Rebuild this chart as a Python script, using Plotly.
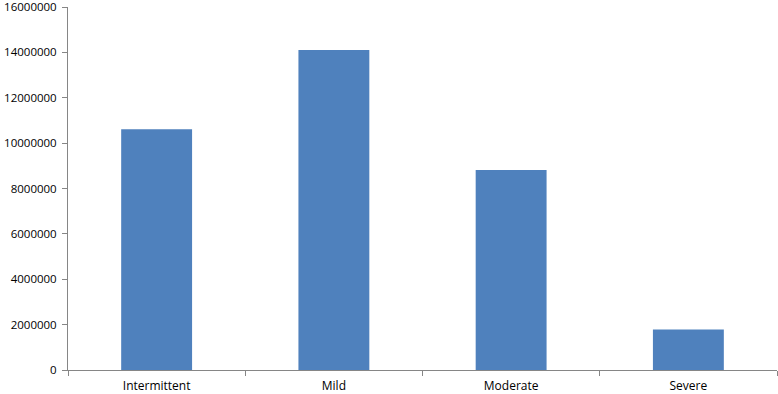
import plotly.graph_objects as go

categories = ["Intermittent", "Mild", "Moderate", "Severe"]
values = [10610000, 14110000, 8810000, 1780000]
y_ticks = [0, 2000000, 4000000, 6000000, 8000000, 10000000, 12000000, 14000000, 16000000]

fig = go.Figure(go.Bar(x=categories, y=values, marker=dict(color="#4F81BD", line=dict(width=0))))

axis_col = "#868686"
font_fam = "Open Sans, Liberation Sans, sans-serif"
fig.update_layout(
    width=778, height=394,
    margin=dict(l=68, r=1, t=7, b=24),
    plot_bgcolor="white", paper_bgcolor="white",
    bargap=0.6,
    showlegend=False,
    font=dict(family=font_fam, size=12, color="#000000"),
)
fig.update_xaxes(
    showline=True, linecolor=axis_col, linewidth=1,
    ticks="outside", tickson="boundaries", ticklen=5, tickcolor=axis_col,
    showgrid=False, tickfont=dict(size=12), automargin=False,
    ticklabeloverflow="allow", ticklabelstandoff=5,
)
fig.update_yaxes(
    range=[0, 16000000], tickvals=y_ticks, ticktext=[str(v) for v in y_ticks],
    showline=True, linecolor=axis_col, linewidth=1,
    ticks="outside", ticklen=5, tickcolor=axis_col,
    showgrid=False, zeroline=False, tickfont=dict(size=11.5),
    ticklabelstandoff=3, automargin=False, ticklabeloverflow="allow",
)
fig.write_html("out.html", config={"displayModeBar": False})

with open("out.html", "r", encoding="utf-8") as f:
    html = f.read()
html = html.replace("<head>", "<head><style>html,body{margin:0;padding:0;overflow:hidden;}</style>", 1)
with open("out.html", "w", encoding="utf-8") as f:
    f.write(html)
